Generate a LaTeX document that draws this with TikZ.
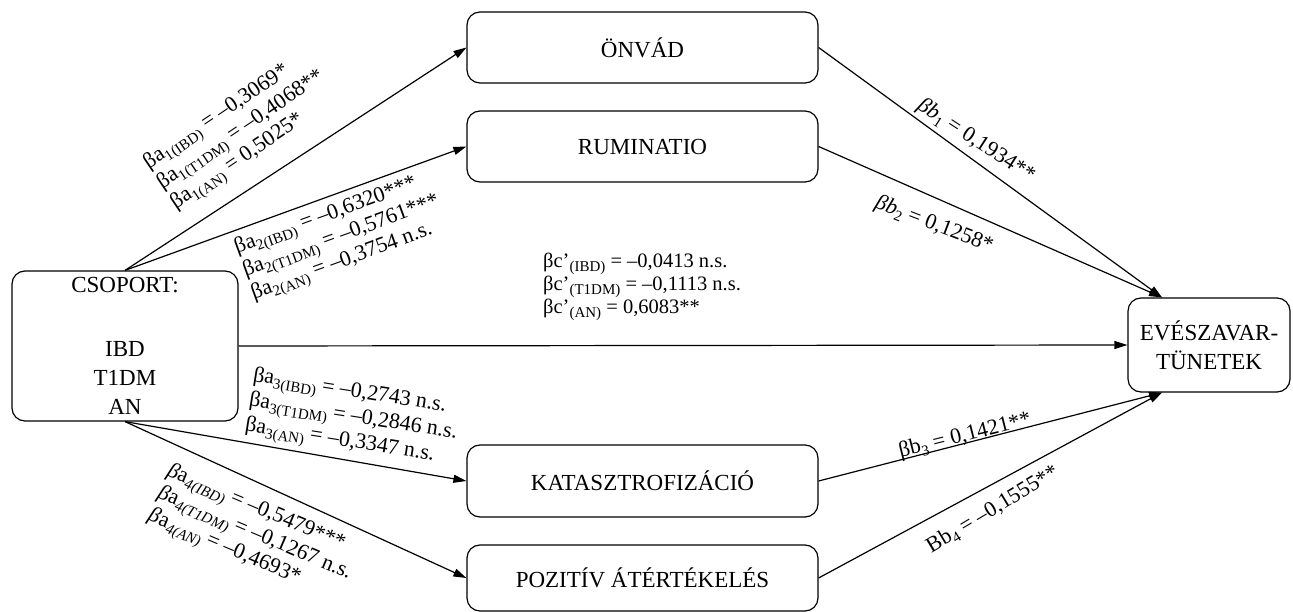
\documentclass[tikz,border=0pt]{standalone}
\usepackage{fontspec}
\setmainfont{Liberation Serif}
\usetikzlibrary{arrows.meta}
\newcommand{\sbx}[1]{\raisebox{-0.45ex}{\fontsize{15}{15}\selectfont #1}}
\begin{document}
\begin{tikzpicture}[x=1pt,y=-1pt,
  box/.style={draw, rounded corners=13pt, line width=1.2pt, fill=white, align=center,
    font=\fontsize{23}{29}\selectfont, inner sep=0pt},
  conn/.style={line width=1.2pt, -{Triangle[length=13pt,width=8pt]}},
  lbl/.style={font=\fontsize{22}{23}\selectfont, align=left, inner sep=0pt}]
\useasboundingbox (0,0) rectangle (1293,612);

\node[box, minimum width=351pt, minimum height=71pt] (onvad) at (642.5,47.5) {ÖNVÁD};
\node[box, minimum width=351pt, minimum height=71pt] (rum) at (642.5,146.5) {RUMINATIO};
\node[box, minimum width=351pt, minimum height=72pt] (kat) at (642.5,481) {KATASZTROFIZÁCIÓ};
\node[box, minimum width=351pt, minimum height=66pt] (poz) at (642.5,578) {POZITÍV ÁTÉRTÉKELÉS};
\node[box, minimum width=226pt, minimum height=150pt] (csop) at (125,346)
  {CSOPORT:\\[35pt]IBD\\T1DM\\AN};
\node[box, minimum width=162pt, minimum height=94pt] (eve) at (1209,345)
  {EVÉSZAVAR-\\TÜNETEK};

\draw[conn] (csop.north) -- (onvad.west);
\draw[conn] (csop.north) -- (rum.west);
\draw[conn] (csop.south) -- (kat.west);
\draw[conn] (csop.south) -- (poz.west);
\draw[conn] (csop.east) -- (eve.west);
\draw[conn] (onvad.east) -- (eve.north -| 1162,0);
\draw[conn] (rum.east) -- (eve.north -| 1162,0);
\draw[conn] (kat.east) -- (eve.south -| 1162,0);
\draw[conn] (poz.east) -- (eve.south -| 1162,0);

\node[lbl, rotate=34, anchor=west] (la1) at (160,186)
  {βa\sbx{1(IBD)} = –0,3069*\\βa\sbx{1(T1DM)} = –0,4068**\\βa\sbx{1(AN)} = 0,5025*};
\node[lbl, rotate=20, anchor=west] (la2) at (244,273)
  {βa\sbx{2(IBD)} = –0,6320***\\βa\sbx{2(T1DM)} = –0,5761***\\βa\sbx{2(AN)} = –0,3754 n.s.};
\node[lbl, rotate=-9, anchor=west, font=\fontsize{22}{25}\selectfont] (la3) at (249,402)
  {βa\sbx{3(IBD)} = –0,2743 n.s.\\βa\sbx{3(T1DM)} = –0,2846 n.s.\\βa\sbx{3(AN)} = –0,3347 n.s.};
\node[lbl, rotate=-23, anchor=west] (la4) at (158,494)
  {\textit{β}a\sbx{\textit{4(IBD)}} = –0,5479***\\\textit{β}a\sbx{\textit{4(T1DM)}} = –0,1267 n.s.\\\textit{β}a\sbx{\textit{4(AN)}} = –0,4693*};
\node[lbl, anchor=west, font=\fontsize{20.5}{19}\selectfont] (lc) at (543,287)
  {βc’\sbx{(IBD)} = –0,0413 n.s.\\βc’\sbx{(T1DM)} = –0,1113 n.s.\\βc’\sbx{(AN)} = 0,6083**};
\node[lbl, rotate=-33] (lb1) at (976,141) {\textit{βb}\sbx{1} = 0,1934**};
\node[lbl, rotate=-21] (lb2) at (934,225) {\textit{βb}\sbx{2} = 0,1258*};
\node[lbl, rotate=14] (lb3) at (965,436) {βb\sbx{3} = 0,1421**};
\node[lbl, rotate=31] (lb4) at (993,510) {Bb\sbx{4} = –0,1555**};
\end{tikzpicture}
\end{document}
